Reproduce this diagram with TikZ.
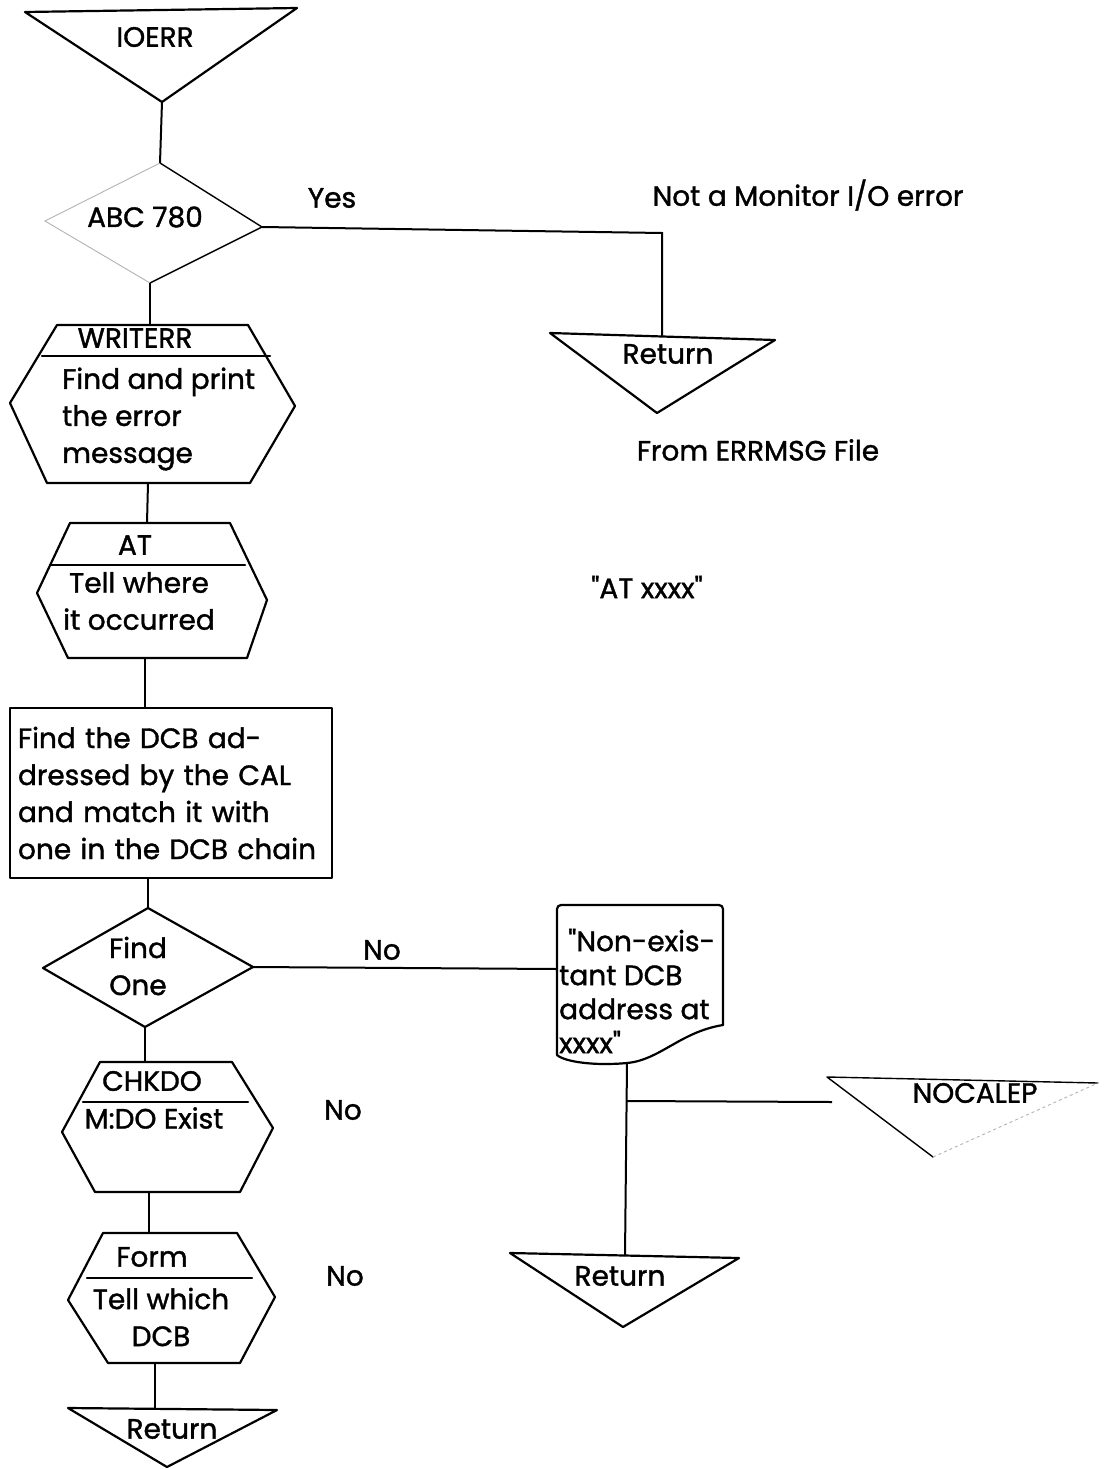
\documentclass[tikz,border=0pt]{standalone}
\usepackage{fontspec}
\setmainfont{Poppins}[Ligatures=TeXOff, FakeBold=1.3]
\begin{document}
\begin{tikzpicture}[x=1pt,y=-1pt,
  flow/.style={draw=black, line width=2.2pt, line join=round, line cap=round},
  thin flow/.style={draw=black, line width=1.4pt, line join=round, line cap=round},
  worn/.style={draw=black!30, line width=0.9pt},
  wire/.style={draw=black, line width=2pt},
  lbl/.style={font=\fontsize{28}{37}\selectfont, inner sep=0pt, text=black},
  doclbl/.style={font=\fontsize{28}{34}\selectfont, inner sep=0pt, text=black},
]
\useasboundingbox (0,0) rectangle (1107,1469);

% ---------- entry: IOERR
\coordinate (ioA) at (25,12);
\coordinate (ioC) at (297,8);
\coordinate (ioB) at (162,102);
\draw[flow] (ioA) -- (ioC) -- (ioB) -- cycle;
\node[lbl] (ioerr) at (155,37) {IOERR};

% ---------- decision: ABC 780
\coordinate (abcT) at (160,163);
\coordinate (abcR) at (262,227);
\coordinate (abcB) at (150,283);
\coordinate (abcL) at (45,221);
\draw[thin flow] (abcT) -- (abcR) -- (abcB);
\draw[worn] (abcB) -- (abcL) -- (abcT);
\node[lbl] (abc) at (145,217) {ABC 780};
\node[lbl] (yes) at (332,198) {Yes};
\node[lbl] (notmon) at (808,195) {Not a Monitor I/O error};

% ---------- return from the Yes branch
\coordinate (raA) at (550,333);
\coordinate (raC) at (775,340);
\coordinate (raB) at (657,413);
\coordinate (raIn) at (662,336);
\coordinate (yesBend) at (662,233);
\draw[flow] (raA) -- (raC) -- (raB) -- cycle;
\node[lbl] (raTxt) at (668,354) {Return};
\node[lbl] (errmsg) at (758,450) {From ERRMSG File};

% ---------- WRITERR
\coordinate (wTL) at (57,325);
\coordinate (wTR) at (248,325);
\coordinate (wR)  at (295,406);
\coordinate (wBR) at (250,483);
\coordinate (wBL) at (47,483);
\coordinate (wL)  at (10,403);
\coordinate (wDl) at (42,356);
\coordinate (wDr) at (270,356);
\coordinate (wIn) at (150,325);
\coordinate (wOut) at (148,483);
\draw[flow] (wTL) -- (wTR) -- (wR) -- (wBR) -- (wBL) -- (wL) -- cycle;
\draw[flow] (wDl) -- (wDr);
\node[lbl] (wName) at (135,338) {WRITERR};
\node[lbl, align=left, anchor=west] (wBody) at (62,419) {Find and print\\the error\\message};

% ---------- AT
\coordinate (aTL) at (70,523);
\coordinate (aTR) at (230,523);
\coordinate (aR)  at (267,600);
\coordinate (aBR) at (247,658);
\coordinate (aBL) at (68,658);
\coordinate (aL)  at (37,593);
\coordinate (aDl) at (50,565);
\coordinate (aDr) at (245,565);
\coordinate (aIn) at (147,523);
\coordinate (aOut) at (145,658);
\draw[flow] (aTL) -- (aTR) -- (aR) -- (aBR) -- (aBL) -- (aL) -- cycle;
\draw[flow] (aDl) -- (aDr);
\node[lbl] (aName) at (135,545) {AT};
\node[lbl, align=center] (aBody) at (139,601) {Tell where\\it occurred};
\node[lbl] (atxxxx) at (647,587) {"AT xxxx"};

% ---------- process box
\node[flow, rectangle, minimum width=322pt, minimum height=170pt,
      text width=306pt, align=left, inner sep=0pt, lbl] (dcb) at (171,793)
  {Find the DCB ad-\\dressed by the CAL\\and match it with\\one in the DCB chain};

% ---------- decision: Find One
\coordinate (fT) at (148,908);
\coordinate (fR) at (253,967);
\coordinate (fB) at (145,1027);
\coordinate (fL) at (43,968);
\draw[flow] (fT) -- (fR) -- (fB) -- (fL) -- cycle;
\node[lbl, align=center] (fTxt) at (138,966) {Find\\One};
\node[lbl] (noA) at (382,950) {No};

% ---------- CHKDO
\coordinate (cTL) at (100,1062);
\coordinate (cTR) at (232,1062);
\coordinate (cR)  at (273,1128);
\coordinate (cBR) at (240,1192);
\coordinate (cBL) at (95,1192);
\coordinate (cL)  at (62,1132);
\coordinate (cDl) at (83,1102);
\coordinate (cDr) at (248,1102);
\coordinate (cIn) at (145,1062);
\coordinate (cOut) at (149,1192);
\draw[flow] (cTL) -- (cTR) -- (cR) -- (cBR) -- (cBL) -- (cL) -- cycle;
\draw[flow] (cDl) -- (cDr);
\node[lbl] (cName) at (152,1081) {CHKDO};
\node[lbl] (cBody) at (154,1118) {M:DO Exist};
\node[lbl] (noB) at (343,1110) {No};

% ---------- Form
\coordinate (mTL) at (103,1233);
\coordinate (mTR) at (237,1233);
\coordinate (mR)  at (275,1297);
\coordinate (mBR) at (240,1363);
\coordinate (mBL) at (108,1363);
\coordinate (mL)  at (68,1300);
\coordinate (mDl) at (87,1278);
\coordinate (mDr) at (252,1278);
\coordinate (mIn) at (149,1233);
\coordinate (mOut) at (155,1363);
\draw[flow] (mTL) -- (mTR) -- (mR) -- (mBR) -- (mBL) -- (mL) -- cycle;
\draw[flow] (mDl) -- (mDr);
\node[lbl] (mName) at (152,1257) {Form};
\node[lbl, align=center] (mBody) at (161,1317) {Tell which\\DCB};
\node[lbl] (noC) at (345,1276) {No};

% ---------- final return
\coordinate (rcA) at (68,1408);
\coordinate (rcC) at (277,1410);
\coordinate (rcB) at (167,1467);
\coordinate (rcIn) at (155,1409);
\draw[flow] (rcA) -- (rcC) -- (rcB) -- cycle;
\node[lbl] (rcTxt) at (172,1429) {Return};

% ---------- printed message (document symbol)
\coordinate (dTL) at (557,905);
\coordinate (dTR) at (723,905);
\coordinate (dRB) at (723,1025);
\coordinate (dLB) at (557,1055);
\coordinate (dIn) at (557,969);
\coordinate (dOut) at (627,1063);
\draw[flow, rounded corners=4pt] (dLB) -- (dTL) -- (dTR) -- (dRB);
\draw[flow] (dRB) .. controls (680,1032) and (660,1060) .. (dOut)
            .. controls (595,1066) and (565,1062) .. (dLB);
\node[doclbl, align=left, anchor=west] (dTxt) at (559,991)
  {\hspace*{9pt}"Non-exis-\\tant DCB\\address at\\xxxx"};

% ---------- NOCALEP
\coordinate (nA) at (827,1077);
\coordinate (nC) at (1098,1083);
\coordinate (nB) at (933,1157);
\draw[thin flow] (nC) -- (nA) -- (nB);
\draw[worn, dashed] (nB) -- (nC);
\node[lbl] (nTxt) at (975,1093) {NOCALEP};

% ---------- return below the message
\coordinate (rbA) at (510,1253);
\coordinate (rbC) at (739,1258);
\coordinate (rbB) at (623,1327);
\coordinate (rbIn) at (625,1256);
\draw[flow] (rbA) -- (rbC) -- (rbB) -- cycle;
\node[lbl] (rbTxt) at (620,1276) {Return};

% ---------- connectors
\coordinate (brJoin) at (627,1101);
\coordinate (brEnd) at (832,1102);
\draw[wire] (ioB) -- (abcT);
\draw[wire] (abcR) -- (yesBend) -- (raIn);
\draw[wire] (abcB) -- (wIn);
\draw[wire] (wOut) -- (aIn);
\draw[wire] (aOut) -- (aOut |- dcb.north);
\draw[wire] (fT |- dcb.south) -- (fT);
\draw[wire] (fR) -- (dIn);
\draw[wire] (fB) -- (cIn);
\draw[wire] (cOut) -- (mIn);
\draw[wire] (mOut) -- (rcIn);
\draw[wire] (dOut) -- (rbIn);
\draw[wire] (brJoin) -- (brEnd);
\end{tikzpicture}
\end{document}
